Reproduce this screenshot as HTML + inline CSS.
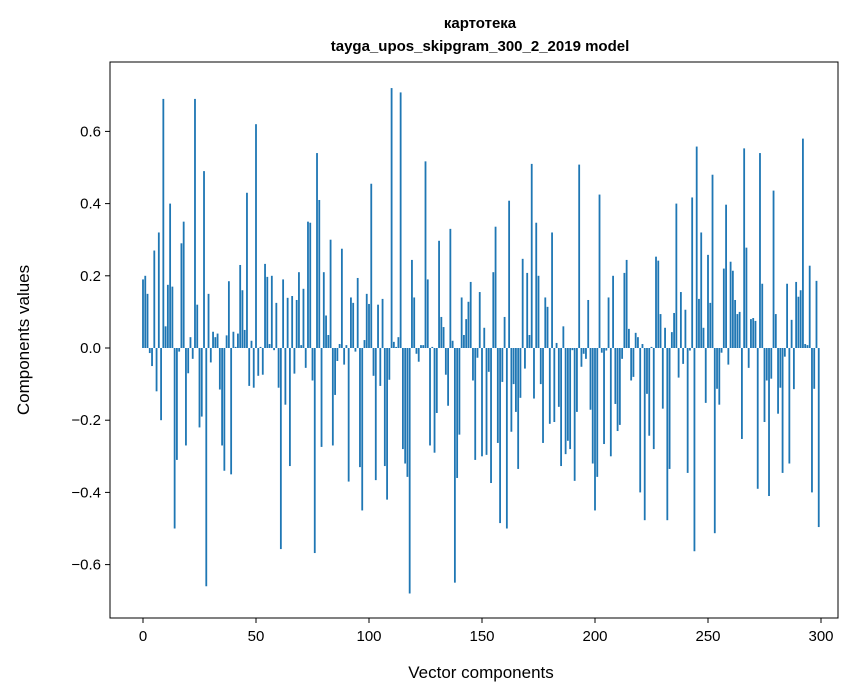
<!DOCTYPE html>
<html><head><meta charset="utf-8"><style>
body{margin:0;background:#fff}
svg{display:block;font-family:"Liberation Sans","DejaVu Sans",sans-serif}
</style></head><body>
<svg id="chart" width="867" height="696">
<text x="480" y="28" text-anchor="middle" font-size="15" font-weight="bold">картотека</text>
<text x="480" y="51" text-anchor="middle" font-size="15" font-weight="bold">tayga_upos_skipgram_300_2_2019 model</text>
<text x="481" y="678" text-anchor="middle" font-size="17">Vector components</text>
<text transform="translate(29,340) rotate(-90)" text-anchor="middle" font-size="17">Components values</text>
<g id="bars"></g>
<g id="axes"></g>
</svg>
<script>
const values = [0.19,0.20,0.15,-0.014,-0.05,0.27,-0.12,0.32,-0.20,0.69,0.06,0.175,0.40,0.17,-0.50,-0.31,-0.01,0.29,0.35,-0.27,-0.07,0.03,-0.03,0.69,0.12,-0.22,-0.19,0.49,-0.66,0.15,-0.04,0.045,0.03,0.04,-0.115,-0.27,-0.34,0.035,0.185,-0.35,0.045,0.003,0.04,0.23,0.16,0.05,0.43,-0.105,0.02,-0.11,
0.62,-0.077,0.003,-0.074,0.233,0.197,0.011,0.2,-0.006,0.125,-0.11,-0.557,0.19,-0.157,0.139,-0.327,0.144,-0.071,0.133,0.21,0.008,0.164,-0.055,0.35,0.347,-0.09,-0.568,0.54,0.41,-0.274,0.21,0.09,0.036,0.30,-0.27,-0.13,-0.036,0.011,0.275,-0.046,0.008,-0.37,0.14,0.125,-0.01,0.194,-0.33,-0.45,0.022,0.15,
0.122,0.455,-0.077,-0.366,0.12,-0.105,0.136,-0.327,-0.42,-0.088,0.72,0.017,0.003,0.03,0.708,-0.28,-0.32,-0.357,-0.68,0.244,0.14,-0.016,-0.038,0.008,0.008,0.517,0.19,-0.27,0.003,-0.29,-0.18,0.297,0.086,0.058,-0.074,-0.16,0.33,0.02,-0.65,-0.36,-0.24,0.14,0.036,0.08,0.128,0.183,-0.09,-0.31,-0.027,0.155,
-0.30,0.056,-0.296,-0.066,-0.374,0.21,0.336,-0.263,-0.485,-0.094,0.086,-0.5,0.408,-0.232,-0.1,-0.177,-0.335,-0.138,0.247,-0.057,0.208,0.036,0.51,-0.14,0.347,0.2,-0.10,-0.263,0.14,0.114,-0.21,0.32,-0.205,0.014,-0.163,-0.327,0.06,-0.294,-0.257,-0.28,-0.006,-0.368,-0.177,0.508,-0.052,-0.016,-0.03,0.133,-0.171,-0.32,
-0.45,-0.357,0.425,-0.013,-0.266,-0.007,0.14,-0.30,0.2,-0.155,-0.23,-0.213,-0.03,0.208,0.244,0.053,-0.09,-0.08,0.042,0.03,-0.40,0.011,-0.477,-0.127,-0.243,0.003,-0.28,0.253,0.242,0.094,-0.168,0.056,-0.477,-0.335,0.044,0.097,0.40,-0.082,0.155,-0.044,0.106,-0.346,-0.007,0.417,-0.563,0.558,0.136,0.32,0.056,-0.152,
0.258,0.125,0.48,-0.513,-0.113,-0.157,-0.013,0.22,0.397,-0.046,0.239,0.214,0.133,0.094,0.1,-0.252,0.553,0.278,-0.055,0.08,0.083,0.075,-0.39,0.54,0.178,-0.205,-0.09,-0.41,-0.085,0.436,0.094,-0.182,-0.11,-0.346,-0.024,0.178,-0.32,0.078,-0.114,0.183,0.142,0.16,0.58,0.011,0.008,0.228,-0.40,-0.113,0.186,-0.496];
const xTicks = [0,50,100,150,200,250,300];
const yTicks = [-0.6,-0.4,-0.2,0.0,0.2,0.4,0.6];
const yTickLabels = ["\u22120.6","\u22120.4","\u22120.2","0.0","0.2","0.4","0.6"];

const L=110,R=838,T=62,B=618;
const x0=143, xs=2.26;
const y0=348, ys=361;
const X=v=>x0+v*xs;
const Y=v=>y0-v*ys;
const NS="http://www.w3.org/2000/svg";
const bars=document.getElementById('bars');
const axes=document.getElementById('axes');
const bw=0.8*xs;
values.forEach((v,i)=>{
  const r=document.createElementNS(NS,'rect');
  const ya=Y(Math.max(v,0)), yb=Y(Math.min(v,0));
  r.setAttribute('x',X(i)-bw/2);
  r.setAttribute('y',ya);
  r.setAttribute('width',bw);
  r.setAttribute('height',Math.max(yb-ya,0.3));
  r.setAttribute('fill','#1f77b4');
  
  
  bars.appendChild(r);
});
const frame=document.createElementNS(NS,'rect');
frame.setAttribute('x',L);frame.setAttribute('y',T);
frame.setAttribute('width',R-L);frame.setAttribute('height',B-T);
frame.setAttribute('fill','none');frame.setAttribute('stroke','#000');frame.setAttribute('stroke-width','1');


axes.appendChild(frame);
xTicks.forEach(t=>{
  const l=document.createElementNS(NS,'line');
  l.setAttribute('x1',X(t));l.setAttribute('x2',X(t));l.setAttribute('y1',B);l.setAttribute('y2',B+5);
  l.setAttribute('stroke','#000');
  
  
  axes.appendChild(l);
  const tx=document.createElementNS(NS,'text');
  tx.setAttribute('x',X(t));tx.setAttribute('y',B+23);tx.setAttribute('text-anchor','middle');tx.setAttribute('font-size','15');
  tx.textContent=t;
  
  
  axes.appendChild(tx);
});
yTicks.forEach((t,i)=>{
  const l=document.createElementNS(NS,'line');
  l.setAttribute('x1',L-5);l.setAttribute('x2',L);l.setAttribute('y1',Y(t));l.setAttribute('y2',Y(t));
  l.setAttribute('stroke','#000');
  
  
  axes.appendChild(l);
  const tx=document.createElementNS(NS,'text');
  tx.setAttribute('x',L-9);tx.setAttribute('y',Y(t)+5);tx.setAttribute('text-anchor','end');tx.setAttribute('font-size','15');
  tx.textContent=yTickLabels[i];
  
  
  axes.appendChild(tx);
});
</script>
</body></html>
